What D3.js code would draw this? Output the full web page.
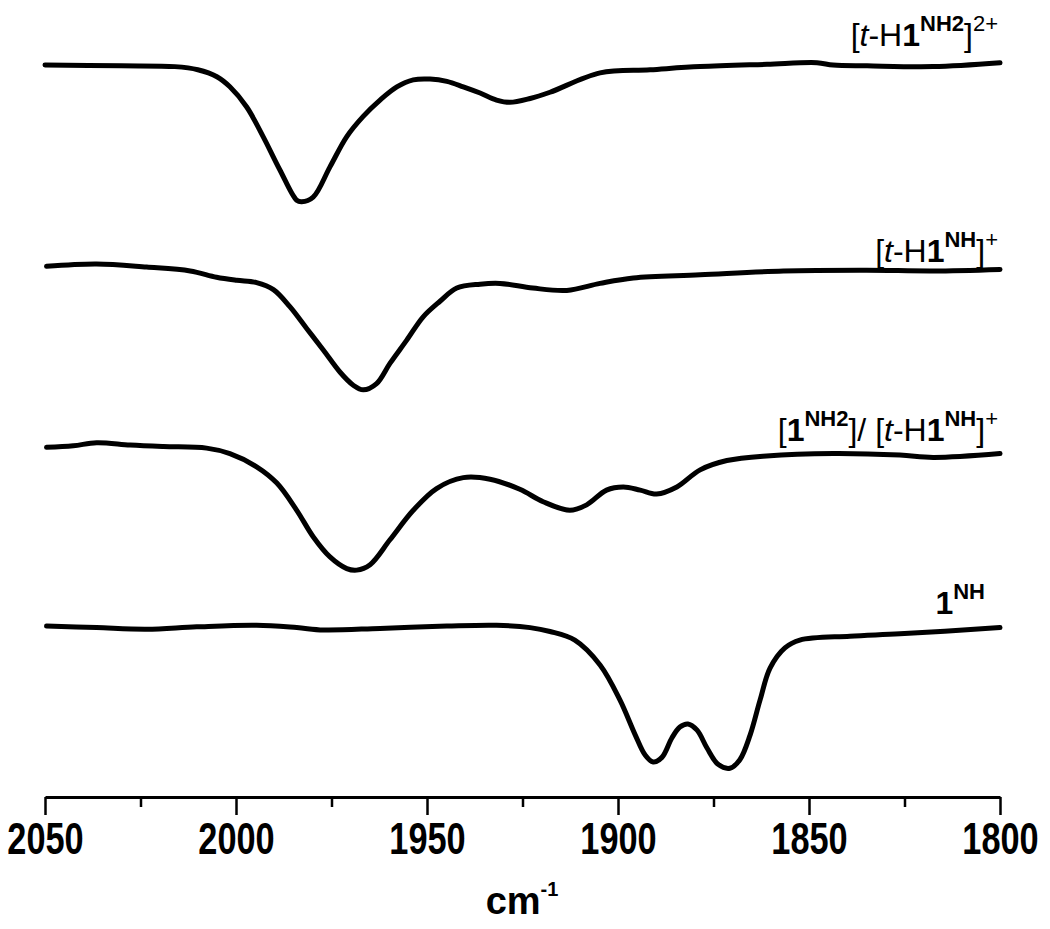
<!DOCTYPE html>
<html>
<head>
<meta charset="utf-8">
<script src="https://cdn.jsdelivr.net/npm/d3@7"></script>
<style>
  body { margin: 0; background: #fff; }
  svg { display: block; }
  .trace { fill: none; stroke: #000; stroke-width: 5; stroke-linejoin: round; stroke-linecap: round; }
  .axis path, .axis line { stroke: #000; }
  .label { font-family: "Liberation Sans", Arial, sans-serif; fill: #000; }
</style>
</head>
<body>
<div id="chart"></div>
<script>
// Espectros IR (cm-1) (transmitancia desplazada, u.a.)
const wn1 = [2050, 2030, 2016, 2010, 2005, 2001.6, 1997.2, 1992.9, 1988.5, 1984.1, 1982.8, 1979.8, 1975.4, 1971, 1966.7, 1962.3, 1957.9, 1953.6, 1949.2, 1944.8, 1940.5, 1936.1, 1931.8, 1928.3, 1923, 1917.8, 1904.7, 1891.6, 1878.5, 1861, 1847.9, 1843.7, 1834.8, 1817.5, 1800];
const t1  = [94.2, 94.1, 94.0, 93.6, 92.7, 91.4, 88.8, 85.0, 80.7, 76.8, 76.6, 77.2, 81.1, 85.0, 87.6, 89.7, 91.4, 92.3, 92.4, 92.1, 91.4, 90.6, 89.7, 89.4, 89.9, 90.7, 93.2, 93.6, 94.0, 94.3, 94.5, 94.2, 94.1, 94.0, 94.5];

const wn2 = [2049.6, 2036.5, 2023.4, 2012, 2005.1, 1999.8, 1994.6, 1990.2, 1985.9, 1981.5, 1977.1, 1972.8, 1969.3, 1966.7, 1963.2, 1959.7, 1955.3, 1951, 1946.6, 1942.2, 1936.1, 1930.9, 1922.3, 1913.4, 1904.7, 1896, 1878.5, 1856.7, 1834.9, 1817.5, 1800];
const t2  = [68.3, 68.6, 68.2, 67.7, 66.9, 66.5, 66.2, 65.3, 63.1, 60.3, 57.5, 54.7, 53.0, 52.4, 53.2, 55.8, 58.8, 61.8, 63.8, 65.5, 66.0, 66.1, 65.5, 65.2, 66.1, 66.8, 67.2, 67.7, 67.8, 67.7, 67.9];

const wn3 = [2049.6, 2042.6, 2036.5, 2027.7, 2019, 2007.7, 2001.6, 1994.6, 1989.3, 1984.1, 1979.8, 1975.4, 1971, 1968.4, 1964.9, 1959.7, 1953.6, 1947.5, 1940.5, 1933.5, 1925.7, 1919.6, 1912.6, 1908.2, 1903, 1898.6, 1894.2, 1889.9, 1884.6, 1878.5, 1871.5, 1861.1, 1843.6, 1826.2, 1817.5, 1800];
const t3  = [45.0, 45.2, 45.6, 45.3, 45.1, 44.9, 44.2, 42.5, 40.4, 36.9, 33.5, 30.9, 29.4, 29.2, 29.9, 33.1, 36.9, 39.7, 41.1, 40.9, 39.6, 38.0, 36.9, 37.6, 39.5, 39.9, 39.5, 39.0, 39.9, 42.1, 43.3, 43.9, 44.2, 44.0, 43.7, 44.2];

const wn4 = [2049.6, 2036.5, 2023.4, 2010.3, 1994.6, 1984.1, 1977.1, 1962.3, 1944.8, 1931.8, 1923, 1917.8, 1911.3, 1904.7, 1899.5, 1895.5, 1892.9, 1890.8, 1888.5, 1885.9, 1883.8, 1881.7, 1879.3, 1876.7, 1873.8, 1870.7, 1868.1, 1865.4, 1862.8, 1860.2, 1856.3, 1852.4, 1839.3, 1826.2, 1800];
const t4  = [22.0, 21.8, 21.6, 21.9, 22.1, 21.8, 21.5, 21.7, 22.0, 22.1, 21.8, 21.3, 20.2, 17.0, 12.5, 8.0, 5.4, 4.5, 5.1, 7.6, 9.0, 9.4, 8.6, 6.3, 4.2, 3.7, 4.8, 8.0, 12.5, 16.6, 19.2, 20.2, 20.7, 21.0, 21.8];

const majorTicks = [2050, 2000, 1950, 1900, 1850, 1800];
const minorTicks = [2025, 1975, 1925, 1875, 1825];

const width = 1050, height = 929;
const margin = { top: 20, right: 50, bottom: 132, left: 45 };

const svg = d3.select('#chart').append('svg')
  .attr('width', width)
  .attr('height', height);

const x = d3.scaleLinear().domain([2050, 1800]).range([margin.left, width - margin.right]);
const y = d3.scaleLinear().domain([0, 100]).range([height - margin.bottom, margin.top]);

const line = d3.line()
  .x(d => x(d[0]))
  .y(d => y(d[1]))
  .curve(d3.curveCatmullRom.alpha(0.5));

// Dibujar las cuatro trazas
[[wn1, t1], [wn2, t2], [wn3, t3], [wn4, t4]].forEach(([w, t]) => {
  svg.append('path')
    .attr('class', 'trace')
    .attr('d', line(w.map((v, i) => [v, t[i]])));
});

// Eje x con marcas mayores y menores
const axisY = height - margin.bottom;
const gMinor = svg.append('g')
  .attr('class', 'axis')
  .attr('transform', `translate(0,${axisY})`)
  .call(d3.axisBottom(x).tickValues(minorTicks).tickSize(10).tickSizeOuter(0).tickFormat(''));
gMinor.select('.domain').remove();
gMinor.selectAll('line').attr('stroke-width', 2.5);

const gMajor = svg.append('g')
  .attr('class', 'axis')
  .attr('transform', `translate(0,${axisY})`)
  .call(d3.axisBottom(x).tickValues(majorTicks).tickSize(18).tickSizeOuter(0).tickPadding(8).tickFormat(d3.format('d')));
gMajor.select('.domain').attr('stroke-width', 3);
gMajor.selectAll('line').attr('stroke-width', 2.5);
gMajor.selectAll('text')
  .attr('font-family', '"Liberation Sans", Arial, sans-serif')
  .attr('font-size', 44)
  .attr('font-weight', 'bold')
  .attr('fill', '#000')
  .attr('transform', 'scale(0.78,1)');

// Titulo del eje
const xt = svg.append('text')
  .attr('class', 'label')
  .attr('x', 522)
  .attr('y', 914)
  .attr('text-anchor', 'middle')
  .attr('font-size', 38)
  .attr('font-weight', 'bold');
xt.append('tspan').text('cm');
xt.append('tspan').attr('dy', -18).attr('font-size', 20).text('-1');

// Etiquetas de las trazas
function addLabel(xp, yp, parts) {
  const t = svg.append('text')
    .attr('class', 'label')
    .attr('x', xp)
    .attr('y', yp)
    .attr('text-anchor', 'end')
    .attr('font-size', 32);
  let shift = 0;
  parts.forEach(p => {
    const s = t.append('tspan').text(p.t);
    const target = p.sup ? -15 : 0;
    if (target !== shift) { s.attr('dy', target - shift); shift = target; }
    if (p.sup) s.attr('font-size', 22);
    if (p.b) s.attr('font-weight', 'bold');
    if (p.i) s.attr('font-style', 'italic');
  });
}

addLabel(998, 46, [
  { t: '[' }, { t: 't', i: true }, { t: '-H' }, { t: '1', b: true },
  { t: 'NH2', sup: true, b: true }, { t: ']' }, { t: '2+', sup: true }
]);
addLabel(998, 262, [
  { t: '[' }, { t: 't', i: true }, { t: '-H' }, { t: '1', b: true },
  { t: 'NH', sup: true, b: true }, { t: ']' }, { t: '+', sup: true }
]);
addLabel(998, 441, [
  { t: '[' }, { t: '1', b: true }, { t: 'NH2', sup: true, b: true }, { t: ']/ [' },
  { t: 't', i: true }, { t: '-H' }, { t: '1', b: true },
  { t: 'NH', sup: true, b: true }, { t: ']' }, { t: '+', sup: true }
]);
addLabel(985, 614, [
  { t: '1', b: true }, { t: 'NH', sup: true, b: true }
]);
</script>
</body>
</html>
